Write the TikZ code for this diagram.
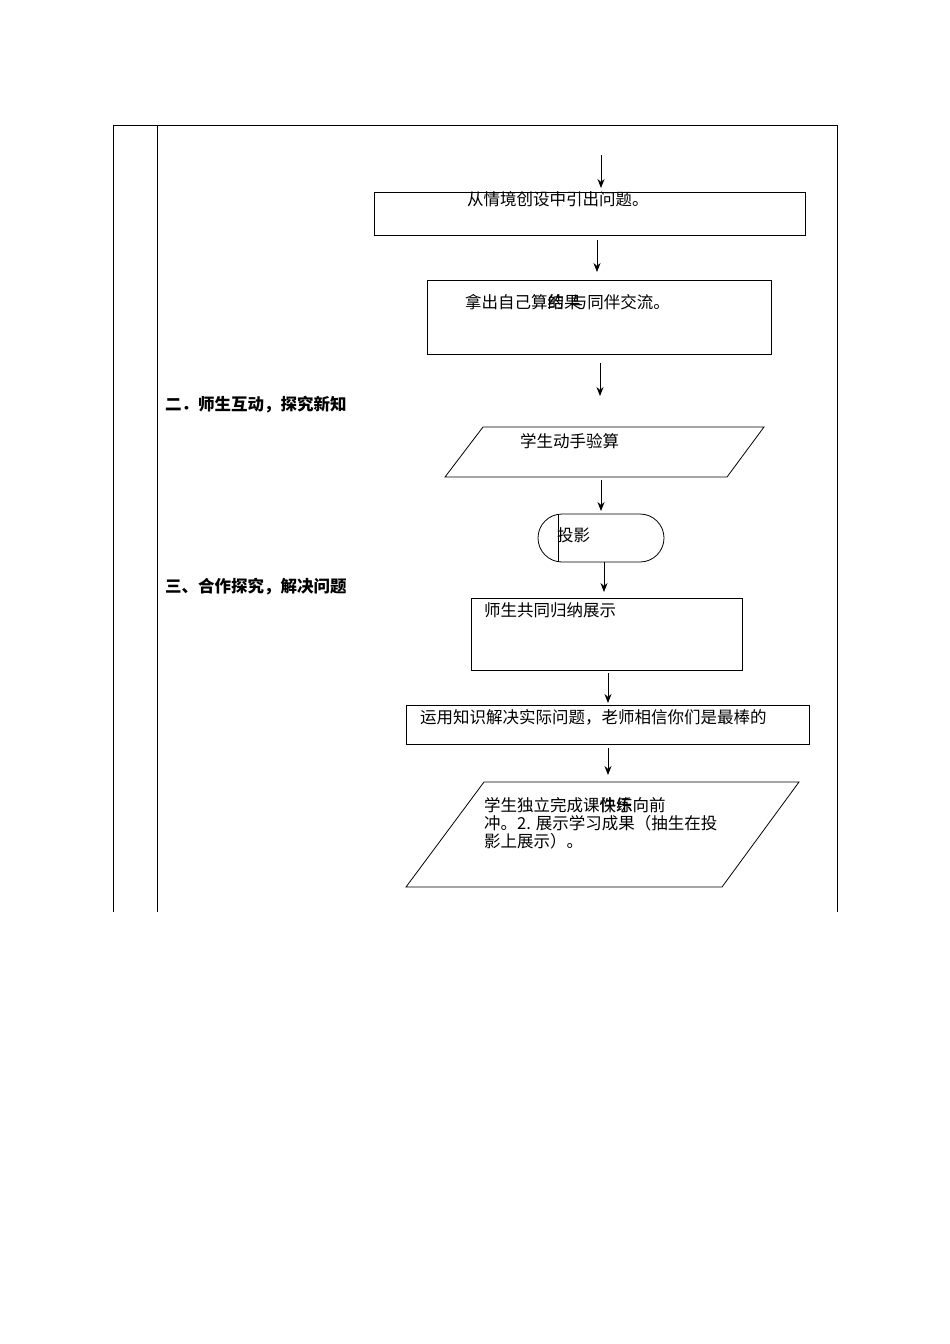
\documentclass[tikz,border=0pt]{standalone}
\usepackage{fontspec}
\newfontfamily\cjk{Noto Sans CJK SC}
\usetikzlibrary{arrows.meta}
\begin{document}
\begin{tikzpicture}[x=1pt,y=-1pt,
  box/.style={draw,line width=0.8pt},
  arr/.style={-{Stealth[length=9pt,width=7pt]},line width=0.8pt},
  txt/.style={anchor=north west,inner sep=0pt,font=\cjk\fontsize{16.5}{20}\selectfont,align=left},
  lab/.style={anchor=west,inner sep=0pt,font=\cjk\bfseries\fontsize{16.5}{19}\selectfont}]
\useasboundingbox (0,0) rectangle (950,1344);
% table
\draw[line width=0.8pt] (113,125) -- (837,125);
\draw[line width=0.8pt] (113,125) -- (113,912);
\draw[line width=0.6pt] (157,125) -- (157,912);
\draw[line width=0.8pt] (837,125) -- (837,912);
\node[lab] (l1) at (165,405) {二．师生互动，探究新知};
\node[lab] (l2) at (165,587) {三、合作探究，解决问题};
% boxes
\coordinate (s0) at (601,155);
\draw[box] (374,192) rectangle (805,235);
\coordinate (b1t) at (601,188); \coordinate (b1b) at (597,240);
\node[txt] (t1) at (467,191) {从情境创设中引出问题。};
\coordinate (b2t) at (597,272);
\draw[box] (427,280) rectangle (771,354);
\node[txt] (t2) at (465,294) {拿出自己算\rlap{结果}的\hspace{0.4em}与同伴交流。};
\coordinate (b2b) at (600,363); \coordinate (p1t) at (600,396);
\draw[box] (483,427) -- (764,427) -- (727,477) -- (445,477) -- cycle;
\node[txt] (t3) at (520,433) {学生动手验算};
\coordinate (p1b) at (601,480); \coordinate (stt) at (601,511);
\draw[box] (562,514) -- (640,514) arc[start angle=-90,end angle=90,radius=24] -- (562,562) arc[start angle=90,end angle=270,radius=24];
\draw[line width=0.8pt] (558,514) -- (558,562);
\node[txt] (t4) at (557,527) {投影};
\coordinate (stb) at (604,562); \coordinate (b3t) at (604,592);
\draw[box] (471,598) rectangle (742,670);
\node[txt] (t5) at (484,602) {师生共同归纳展示};
\coordinate (b3b) at (608,673); \coordinate (b4t) at (608,703);
\draw[box] (406,705) rectangle (809,744);
\node[txt] (t6) at (420,709) {运用知识解决实际问题，老师相信你们是最棒的};
\coordinate (b4b) at (608,748); \coordinate (p2t) at (608,775);
\draw[box] (484,782) -- (799,782) -- (722,887) -- (406,887) -- cycle;
\node[txt,font=\cjk\fontsize{16.5}{18}\selectfont] (t7) at (484,797) {学生独立完成课\rlap{件练}快乐向前\\冲。2. 展示学习成果（抽生在投\\影上展示）。};
\draw[arr] (s0) -- (b1t);
\draw[arr] (b1b) -- (b2t);
\draw[arr] (b2b) -- (p1t);
\draw[arr] (p1b) -- (stt);
\draw[arr] (stb) -- (b3t);
\draw[arr] (b3b) -- (b4t);
\draw[arr] (b4b) -- (p2t);
\end{tikzpicture}
\end{document}
